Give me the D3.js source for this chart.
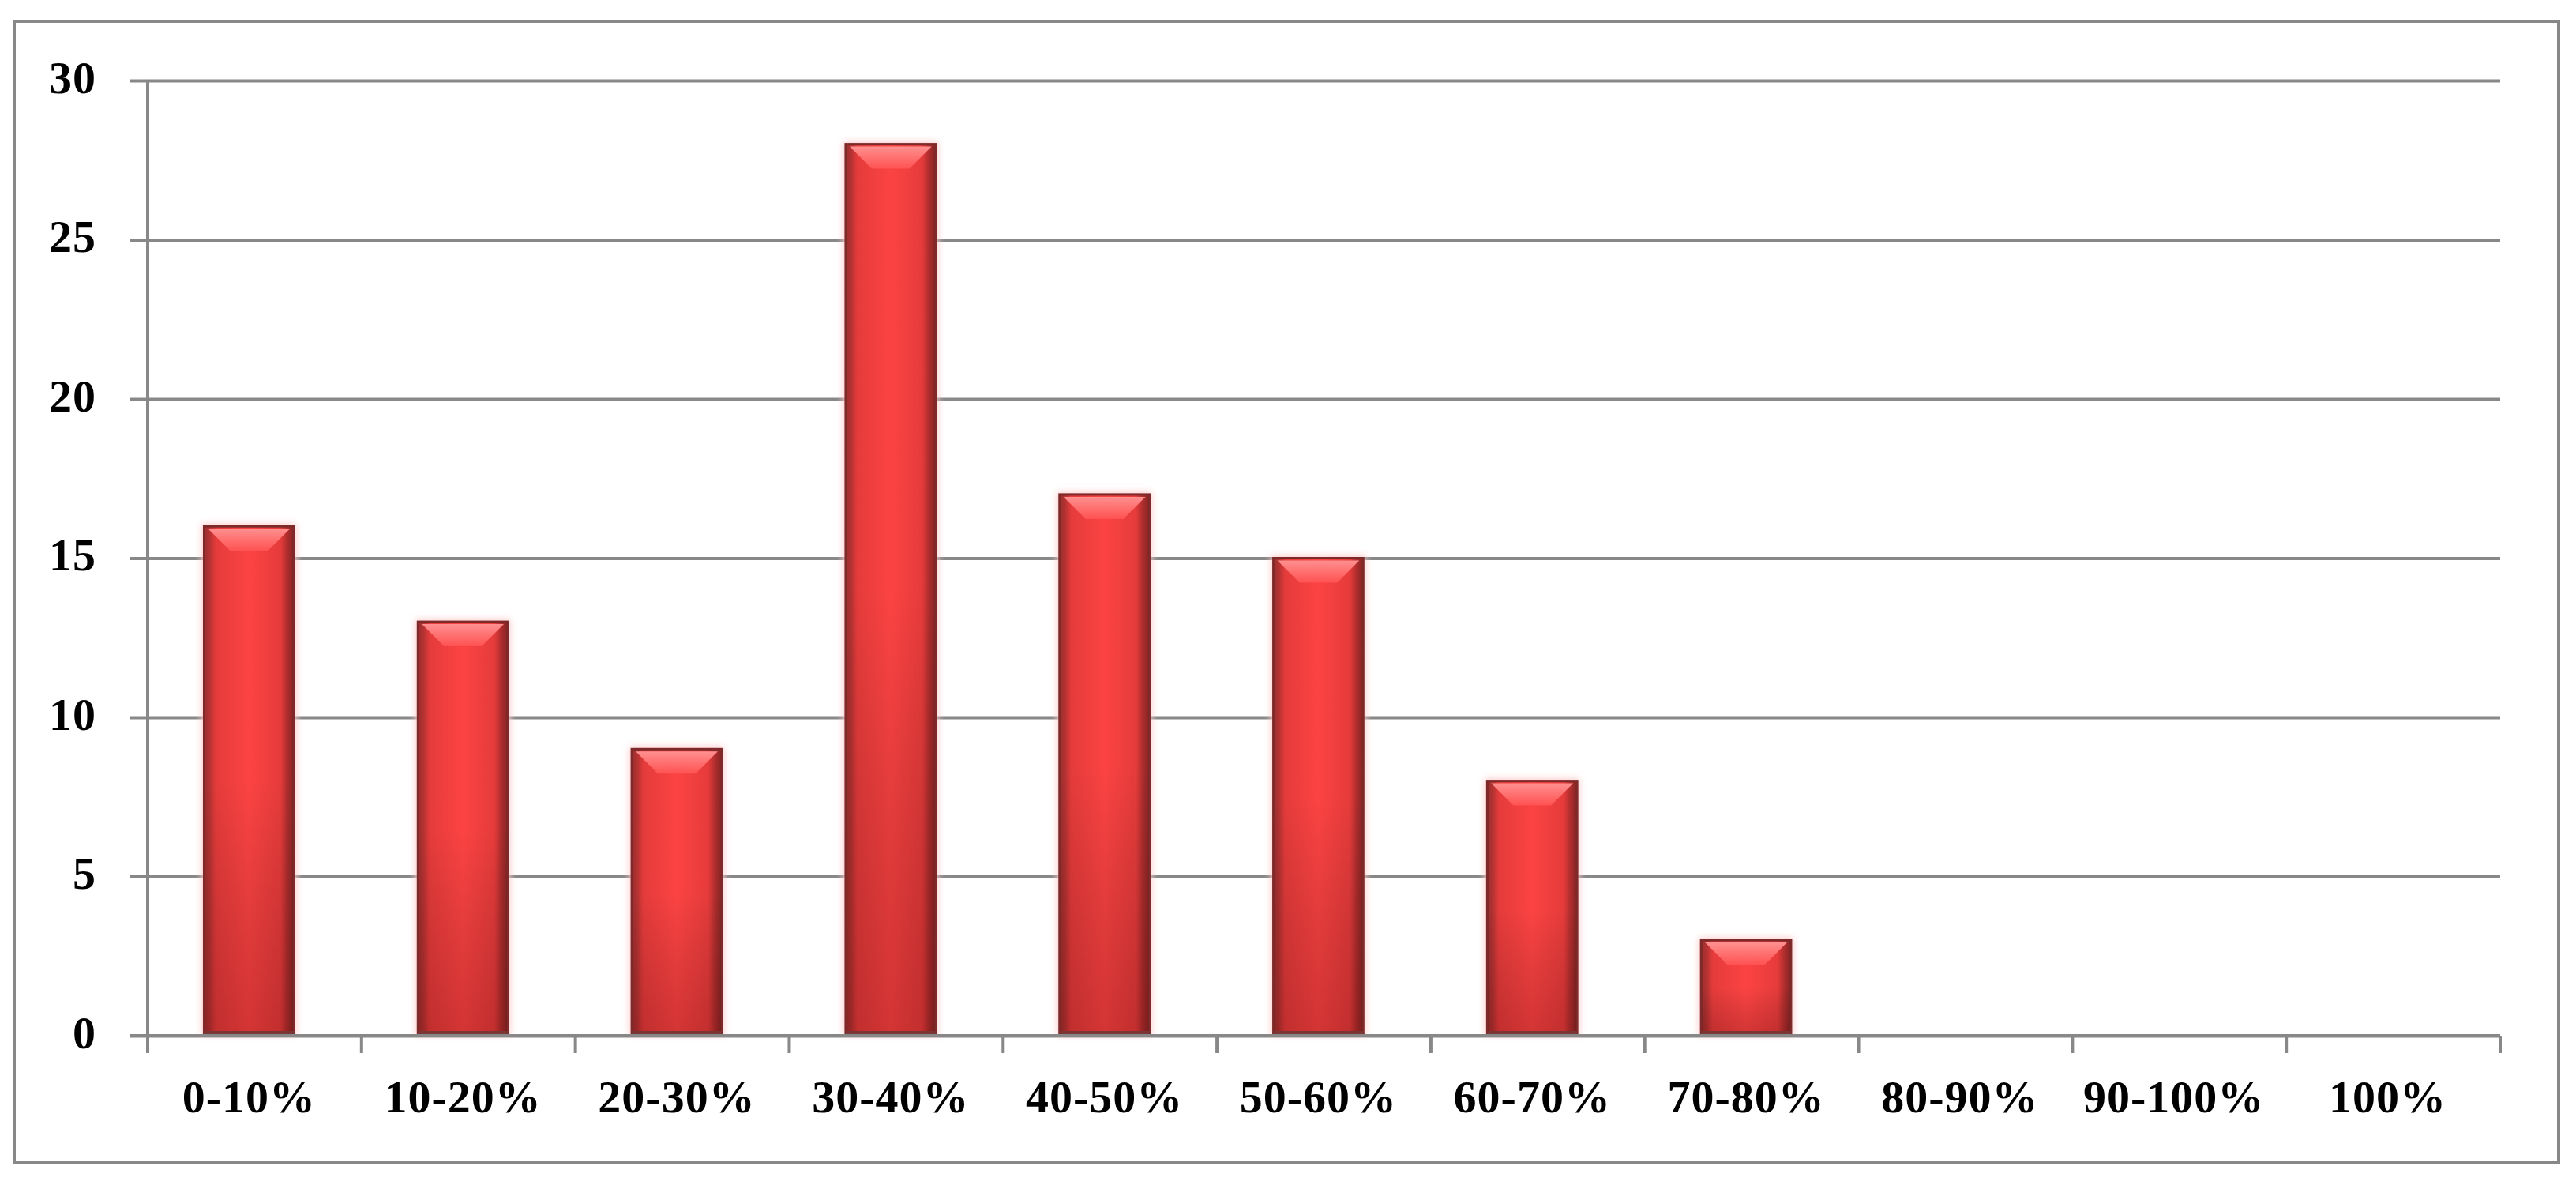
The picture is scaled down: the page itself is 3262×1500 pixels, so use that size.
<!DOCTYPE html>
<html>
<head>
<meta charset="utf-8">
<script src="https://cdn.jsdelivr.net/npm/d3@7"></script>
<style>
  html, body { margin: 0; padding: 0; background: #fff; }
  svg { display: block; }
  .tick text { font-family: "Liberation Serif", "Times New Roman", serif; font-weight: bold; fill: #000; }
</style>
</head>
<body>
<div id="chart"></div>
<script>
  // data
  var categories = ['0-10%', '10-20%', '20-30%', '30-40%', '40-50%', '50-60%',
                    '60-70%', '70-80%', '80-90%', '90-100%', '100%'];
  var counts     = [16, 13, 9, 28, 17, 15, 8, 3, 0, 0, 0];
  var yTicks     = [0, 5, 10, 15, 20, 25, 30];

  var W = 3262, H = 1500;
  var margin = { top: 102, right: 96, bottom: 189, left: 187 };
  var width  = W - margin.left - margin.right,
      height = H - margin.top - margin.bottom;

  var svg = d3.select('#chart')
              .append('svg')
              .attr('width', W)
              .attr('height', H);

  // outer frame
  svg.append('rect')
     .attr('x', 18).attr('y', 27)
     .attr('width', 3222).attr('height', 1445)
     .attr('fill', '#fff')
     .attr('stroke', '#888')
     .attr('stroke-width', 4);

  var defs = svg.append('defs');

  var side = defs.append('linearGradient').attr('id', 'barSide')
                 .attr('x1', 0).attr('x2', 1).attr('y1', 0).attr('y2', 0);
  [[0, '#9a2e2e'], [0.06, '#b33232'], [0.13, '#e53b3b'], [0.5, '#fc4343'],
   [0.85, '#e63b3b'], [0.92, '#b22e2e'], [1, '#842424']].forEach(s => {
    side.append('stop').attr('offset', s[0]).attr('stop-color', s[1]);
  });

  var shade = defs.append('linearGradient').attr('id', 'barShade')
                  .attr('x1', 0).attr('x2', 0).attr('y1', 0).attr('y2', 1);
  shade.append('stop').attr('offset', 0).attr('stop-color', '#000').attr('stop-opacity', 0);
  shade.append('stop').attr('offset', 0.5).attr('stop-color', '#000').attr('stop-opacity', 0);
  shade.append('stop').attr('offset', 1).attr('stop-color', '#400').attr('stop-opacity', 0.22);

  var bevel = defs.append('linearGradient').attr('id', 'bevel')
                  .attr('x1', 0).attr('x2', 0).attr('y1', 0).attr('y2', 1);
  bevel.append('stop').attr('offset', 0).attr('stop-color', '#ff9090');
  bevel.append('stop').attr('offset', 0.5).attr('stop-color', '#ff7070');
  bevel.append('stop').attr('offset', 1).attr('stop-color', '#ff5252');

  var glow = defs.append('filter').attr('id', 'glow')
                 .attr('x', '-20%').attr('y', '-20%').attr('width', '140%').attr('height', '140%');
  glow.append('feGaussianBlur').attr('stdDeviation', 4);

  var g = svg.append('g')
             .attr('transform', 'translate(' + margin.left + ',' + margin.top + ')');

  var x = d3.scaleBand()
            .domain(categories)
            .range([0, width])
            .paddingInner(0.58)
            .paddingOuter(0.29)
            .align(0.455);

  var y = d3.scaleLinear()
            .domain([0, 30])
            .range([height, 0]);

  // gridlines
  g.append('g')
   .attr('class', 'grid')
   .call(d3.axisLeft(y).tickValues(yTicks).tickSize(-width).tickFormat(''))
   .call(s => s.select('.domain').remove())
   .call(s => s.selectAll('line').attr('stroke', '#888').attr('stroke-width', 4));

  // y axis
  g.append('g')
   .attr('class', 'y-axis')
   .call(d3.axisLeft(y).tickValues(yTicks).tickSize(22).tickPadding(43))
   .call(s => s.select('.domain').attr('d', 'M0,' + (height + 22) + 'V0')
                .attr('stroke', '#888').attr('stroke-width', 4))
   .call(s => s.selectAll('line').attr('stroke', '#888').attr('stroke-width', 4))
   .call(s => s.selectAll('text').attr('font-size', 58).attr('letter-spacing', 1).attr('dy', '0.26em'));

  // bars
  var bars = g.selectAll('.bar')
              .data(counts.map((d, i) => ({ cat: categories[i], v: d })).filter(d => d.v > 0))
              .enter()
              .append('g')
              .attr('class', 'bar');

  bars.append('rect')
      .attr('x', d => x(d.cat) - 3)
      .attr('y', d => y(d.v) - 3)
      .attr('width', x.bandwidth() + 6)
      .attr('height', d => height - y(d.v) + 3)
      .attr('fill', '#ffc9c9')
      .attr('filter', 'url(#glow)');

  bars.append('rect')
      .attr('x', d => x(d.cat))
      .attr('y', d => y(d.v))
      .attr('width', x.bandwidth())
      .attr('height', d => height - y(d.v))
      .attr('fill', 'url(#barSide)')
      .attr('stroke', '#7e2a2a')
      .attr('stroke-width', 3);

  bars.append('rect')
      .attr('x', d => x(d.cat) + 1)
      .attr('y', d => y(d.v))
      .attr('width', x.bandwidth() - 2)
      .attr('height', d => height - y(d.v))
      .attr('fill', 'url(#barShade)');

  // top bevel
  bars.append('path')
      .attr('d', d => {
        var x0 = x(d.cat) + 5, x1 = x(d.cat) + x.bandwidth() - 5, y0 = y(d.v) + 3,
            b = Math.min(28, (height - y(d.v)) / 2);
        return 'M' + x0 + ',' + y0 + 'H' + x1 + 'L' + (x1 - b) + ',' + (y0 + b) + 'H' + (x0 + b) + 'Z';
      })
      .attr('fill', 'url(#bevel)');

  // bottom edge
  bars.append('rect')
      .attr('x', d => x(d.cat))
      .attr('y', height - 6)
      .attr('width', x.bandwidth())
      .attr('height', 6)
      .attr('fill', '#7a3535');

  // x axis
  var xAxis = d3.axisBottom(x).tickSize(0).tickPadding(56);
  g.append('g')
   .attr('class', 'x-axis')
   .attr('transform', 'translate(0,' + height + ')')
   .call(xAxis)
   .call(s => s.select('.domain').attr('d', 'M-22,0H' + width)
                .attr('stroke', '#888').attr('stroke-width', 4))
   .call(s => s.selectAll('text').attr('font-size', 58).attr('letter-spacing', 1));

  // boundary ticks between categories
  var step = x.step();
  g.append('g')
   .selectAll('line')
   .data(d3.range(categories.length + 1))
   .enter()
   .append('line')
   .attr('x1', i => i * step)
   .attr('x2', i => i * step)
   .attr('y1', height)
   .attr('y2', height + 22)
   .attr('stroke', '#888')
   .attr('stroke-width', 4);
</script>
</body>
</html>
